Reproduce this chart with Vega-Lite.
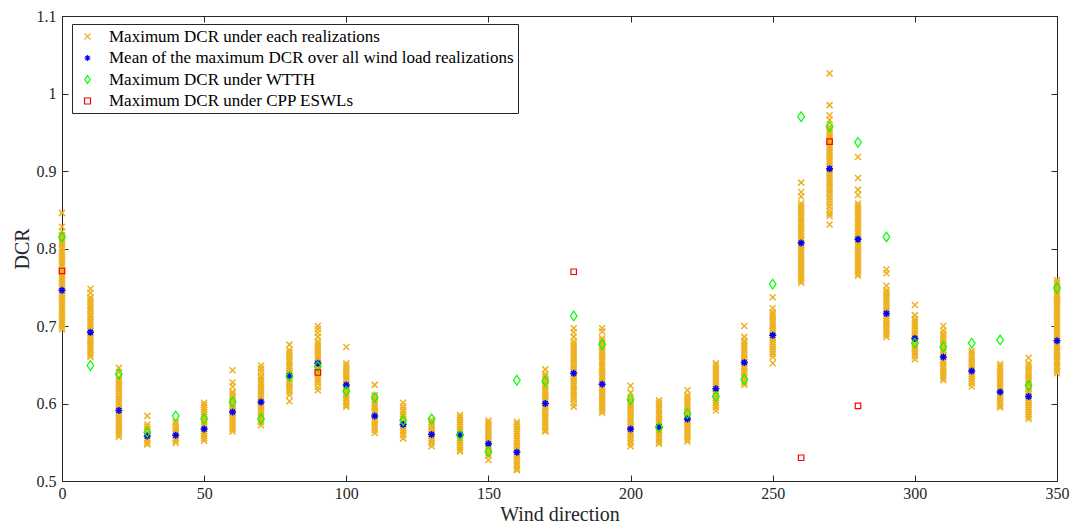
{
  "$schema": "https://vega.github.io/schema/vega-lite/v6.json",
  "width": 995,
  "height": 465,
  "autosize": {"type": "none"},
  "padding": {"left": 62, "top": 16, "right": 15, "bottom": 45},
  "background": "white",
  "config": {
    "view": {"stroke": "#262626", "strokeWidth": 1},
    "font": "Liberation Serif",
    "axis": {
      "grid": false,
      "domainColor": "#262626",
      "tickColor": "#262626",
      "labelColor": "#262626",
      "titleColor": "#262626",
      "labelFont": "Liberation Serif",
      "titleFont": "Liberation Serif",
      "labelFontSize": 16,
      "titleFontSize": 20,
      "titleFontWeight": "normal",
      "tickSize": -6,
      "labelFlush": false,
      "labelOverlap": false
    },
    "legend": {
      "orient": "none",
      "legendX": 10,
      "legendY": 8,
      "strokeColor": "#262626",
      "fillColor": "white",
      "padding": 4,
      "rowPadding": 3.5,
      "labelFont": "Liberation Serif",
      "labelFontSize": 17,
      "labelColor": "#000000",
      "labelLimit": 600,
      "symbolSize": 36,
      "symbolStrokeWidth": 1.2,
      "symbolOffset": 3,
      "labelOffset": 13,
      "title": null
    }
  },
  "datasets": {
    "real": [
      {"s":"R","d":0,"v":0.846},{"s":"R","d":0,"v":0.828},{"s":"R","d":0,"v":0.822},{"s":"R","d":0,"v":0.817},{"s":"R","d":0,"v":0.814},{"s":"R","d":0,"v":0.811},{"s":"R","d":0,"v":0.808},{"s":"R","d":0,"v":0.805},{"s":"R","d":0,"v":0.801},{"s":"R","d":0,"v":0.798},{"s":"R","d":0,"v":0.795},{"s":"R","d":0,"v":0.792},{"s":"R","d":0,"v":0.789},{"s":"R","d":0,"v":0.786},{"s":"R","d":0,"v":0.783},{"s":"R","d":0,"v":0.78},{"s":"R","d":0,"v":0.777},{"s":"R","d":0,"v":0.773},{"s":"R","d":0,"v":0.77},{"s":"R","d":0,"v":0.767},{"s":"R","d":0,"v":0.764},{"s":"R","d":0,"v":0.761},{"s":"R","d":0,"v":0.758},{"s":"R","d":0,"v":0.755},{"s":"R","d":0,"v":0.752},{"s":"R","d":0,"v":0.749},{"s":"R","d":0,"v":0.745},{"s":"R","d":0,"v":0.742},{"s":"R","d":0,"v":0.739},{"s":"R","d":0,"v":0.736},{"s":"R","d":0,"v":0.733},{"s":"R","d":0,"v":0.73},{"s":"R","d":0,"v":0.727},{"s":"R","d":0,"v":0.724},{"s":"R","d":0,"v":0.721},{"s":"R","d":0,"v":0.717},{"s":"R","d":0,"v":0.714},{"s":"R","d":0,"v":0.711},{"s":"R","d":0,"v":0.708},{"s":"R","d":0,"v":0.705},{"s":"R","d":0,"v":0.702},{"s":"R","d":0,"v":0.699},{"s":"R","d":0,"v":0.696},
      {"s":"R","d":10,"v":0.748},{"s":"R","d":10,"v":0.743},{"s":"R","d":10,"v":0.737},{"s":"R","d":10,"v":0.734},{"s":"R","d":10,"v":0.731},{"s":"R","d":10,"v":0.728},{"s":"R","d":10,"v":0.725},{"s":"R","d":10,"v":0.722},{"s":"R","d":10,"v":0.719},{"s":"R","d":10,"v":0.715},{"s":"R","d":10,"v":0.712},{"s":"R","d":10,"v":0.709},{"s":"R","d":10,"v":0.706},{"s":"R","d":10,"v":0.703},{"s":"R","d":10,"v":0.7},{"s":"R","d":10,"v":0.697},{"s":"R","d":10,"v":0.694},{"s":"R","d":10,"v":0.691},{"s":"R","d":10,"v":0.687},{"s":"R","d":10,"v":0.684},{"s":"R","d":10,"v":0.681},{"s":"R","d":10,"v":0.678},{"s":"R","d":10,"v":0.675},{"s":"R","d":10,"v":0.672},{"s":"R","d":10,"v":0.669},{"s":"R","d":10,"v":0.666},{"s":"R","d":10,"v":0.663},{"s":"R","d":10,"v":0.66},
      {"s":"R","d":20,"v":0.646},{"s":"R","d":20,"v":0.64},{"s":"R","d":20,"v":0.634},{"s":"R","d":20,"v":0.631},{"s":"R","d":20,"v":0.628},{"s":"R","d":20,"v":0.625},{"s":"R","d":20,"v":0.622},{"s":"R","d":20,"v":0.619},{"s":"R","d":20,"v":0.616},{"s":"R","d":20,"v":0.612},{"s":"R","d":20,"v":0.609},{"s":"R","d":20,"v":0.606},{"s":"R","d":20,"v":0.603},{"s":"R","d":20,"v":0.6},{"s":"R","d":20,"v":0.597},{"s":"R","d":20,"v":0.594},{"s":"R","d":20,"v":0.591},{"s":"R","d":20,"v":0.588},{"s":"R","d":20,"v":0.584},{"s":"R","d":20,"v":0.581},{"s":"R","d":20,"v":0.578},{"s":"R","d":20,"v":0.575},{"s":"R","d":20,"v":0.572},{"s":"R","d":20,"v":0.569},{"s":"R","d":20,"v":0.566},{"s":"R","d":20,"v":0.563},{"s":"R","d":20,"v":0.56},{"s":"R","d":20,"v":0.557},
      {"s":"R","d":30,"v":0.584},{"s":"R","d":30,"v":0.573},{"s":"R","d":30,"v":0.57},{"s":"R","d":30,"v":0.567},{"s":"R","d":30,"v":0.564},{"s":"R","d":30,"v":0.561},{"s":"R","d":30,"v":0.558},{"s":"R","d":30,"v":0.555},{"s":"R","d":30,"v":0.552},{"s":"R","d":30,"v":0.549},{"s":"R","d":30,"v":0.547},
      {"s":"R","d":40,"v":0.576},{"s":"R","d":40,"v":0.573},{"s":"R","d":40,"v":0.57},{"s":"R","d":40,"v":0.567},{"s":"R","d":40,"v":0.564},{"s":"R","d":40,"v":0.561},{"s":"R","d":40,"v":0.558},{"s":"R","d":40,"v":0.555},{"s":"R","d":40,"v":0.552},{"s":"R","d":40,"v":0.549},
      {"s":"R","d":50,"v":0.601},{"s":"R","d":50,"v":0.598},{"s":"R","d":50,"v":0.595},{"s":"R","d":50,"v":0.592},{"s":"R","d":50,"v":0.589},{"s":"R","d":50,"v":0.586},{"s":"R","d":50,"v":0.583},{"s":"R","d":50,"v":0.58},{"s":"R","d":50,"v":0.577},{"s":"R","d":50,"v":0.573},{"s":"R","d":50,"v":0.57},{"s":"R","d":50,"v":0.567},{"s":"R","d":50,"v":0.564},{"s":"R","d":50,"v":0.561},{"s":"R","d":50,"v":0.558},{"s":"R","d":50,"v":0.555},{"s":"R","d":50,"v":0.552},
      {"s":"R","d":60,"v":0.643},{"s":"R","d":60,"v":0.627},{"s":"R","d":60,"v":0.622},{"s":"R","d":60,"v":0.615},{"s":"R","d":60,"v":0.612},{"s":"R","d":60,"v":0.609},{"s":"R","d":60,"v":0.606},{"s":"R","d":60,"v":0.603},{"s":"R","d":60,"v":0.6},{"s":"R","d":60,"v":0.597},{"s":"R","d":60,"v":0.594},{"s":"R","d":60,"v":0.591},{"s":"R","d":60,"v":0.588},{"s":"R","d":60,"v":0.585},{"s":"R","d":60,"v":0.582},{"s":"R","d":60,"v":0.579},{"s":"R","d":60,"v":0.576},{"s":"R","d":60,"v":0.573},{"s":"R","d":60,"v":0.57},{"s":"R","d":60,"v":0.567},{"s":"R","d":60,"v":0.564},
      {"s":"R","d":70,"v":0.649},{"s":"R","d":70,"v":0.645},{"s":"R","d":70,"v":0.641},{"s":"R","d":70,"v":0.636},{"s":"R","d":70,"v":0.633},{"s":"R","d":70,"v":0.63},{"s":"R","d":70,"v":0.627},{"s":"R","d":70,"v":0.624},{"s":"R","d":70,"v":0.621},{"s":"R","d":70,"v":0.618},{"s":"R","d":70,"v":0.615},{"s":"R","d":70,"v":0.612},{"s":"R","d":70,"v":0.609},{"s":"R","d":70,"v":0.606},{"s":"R","d":70,"v":0.603},{"s":"R","d":70,"v":0.6},{"s":"R","d":70,"v":0.597},{"s":"R","d":70,"v":0.594},{"s":"R","d":70,"v":0.591},{"s":"R","d":70,"v":0.588},{"s":"R","d":70,"v":0.585},{"s":"R","d":70,"v":0.582},{"s":"R","d":70,"v":0.579},{"s":"R","d":70,"v":0.576},{"s":"R","d":70,"v":0.572},
      {"s":"R","d":80,"v":0.676},{"s":"R","d":80,"v":0.669},{"s":"R","d":80,"v":0.666},{"s":"R","d":80,"v":0.663},{"s":"R","d":80,"v":0.66},{"s":"R","d":80,"v":0.657},{"s":"R","d":80,"v":0.654},{"s":"R","d":80,"v":0.651},{"s":"R","d":80,"v":0.648},{"s":"R","d":80,"v":0.645},{"s":"R","d":80,"v":0.642},{"s":"R","d":80,"v":0.639},{"s":"R","d":80,"v":0.636},{"s":"R","d":80,"v":0.633},{"s":"R","d":80,"v":0.63},{"s":"R","d":80,"v":0.627},{"s":"R","d":80,"v":0.624},{"s":"R","d":80,"v":0.621},{"s":"R","d":80,"v":0.618},{"s":"R","d":80,"v":0.615},{"s":"R","d":80,"v":0.611},{"s":"R","d":80,"v":0.603},
      {"s":"R","d":90,"v":0.7},{"s":"R","d":90,"v":0.696},{"s":"R","d":90,"v":0.691},{"s":"R","d":90,"v":0.686},{"s":"R","d":90,"v":0.68},{"s":"R","d":90,"v":0.677},{"s":"R","d":90,"v":0.674},{"s":"R","d":90,"v":0.671},{"s":"R","d":90,"v":0.668},{"s":"R","d":90,"v":0.665},{"s":"R","d":90,"v":0.662},{"s":"R","d":90,"v":0.659},{"s":"R","d":90,"v":0.656},{"s":"R","d":90,"v":0.653},{"s":"R","d":90,"v":0.65},{"s":"R","d":90,"v":0.647},{"s":"R","d":90,"v":0.644},{"s":"R","d":90,"v":0.641},{"s":"R","d":90,"v":0.638},{"s":"R","d":90,"v":0.635},{"s":"R","d":90,"v":0.632},{"s":"R","d":90,"v":0.629},{"s":"R","d":90,"v":0.626},{"s":"R","d":90,"v":0.621},{"s":"R","d":90,"v":0.617},
      {"s":"R","d":100,"v":0.673},{"s":"R","d":100,"v":0.652},{"s":"R","d":100,"v":0.649},{"s":"R","d":100,"v":0.646},{"s":"R","d":100,"v":0.643},{"s":"R","d":100,"v":0.64},{"s":"R","d":100,"v":0.637},{"s":"R","d":100,"v":0.634},{"s":"R","d":100,"v":0.631},{"s":"R","d":100,"v":0.628},{"s":"R","d":100,"v":0.625},{"s":"R","d":100,"v":0.622},{"s":"R","d":100,"v":0.619},{"s":"R","d":100,"v":0.616},{"s":"R","d":100,"v":0.613},{"s":"R","d":100,"v":0.61},{"s":"R","d":100,"v":0.607},{"s":"R","d":100,"v":0.604},{"s":"R","d":100,"v":0.601},{"s":"R","d":100,"v":0.598},{"s":"R","d":100,"v":0.596},
      {"s":"R","d":110,"v":0.624},{"s":"R","d":110,"v":0.611},{"s":"R","d":110,"v":0.608},{"s":"R","d":110,"v":0.605},{"s":"R","d":110,"v":0.602},{"s":"R","d":110,"v":0.599},{"s":"R","d":110,"v":0.596},{"s":"R","d":110,"v":0.593},{"s":"R","d":110,"v":0.59},{"s":"R","d":110,"v":0.587},{"s":"R","d":110,"v":0.584},{"s":"R","d":110,"v":0.581},{"s":"R","d":110,"v":0.578},{"s":"R","d":110,"v":0.575},{"s":"R","d":110,"v":0.572},{"s":"R","d":110,"v":0.569},{"s":"R","d":110,"v":0.566},{"s":"R","d":110,"v":0.562},
      {"s":"R","d":120,"v":0.601},{"s":"R","d":120,"v":0.596},{"s":"R","d":120,"v":0.592},{"s":"R","d":120,"v":0.589},{"s":"R","d":120,"v":0.586},{"s":"R","d":120,"v":0.583},{"s":"R","d":120,"v":0.58},{"s":"R","d":120,"v":0.577},{"s":"R","d":120,"v":0.574},{"s":"R","d":120,"v":0.571},{"s":"R","d":120,"v":0.568},{"s":"R","d":120,"v":0.565},{"s":"R","d":120,"v":0.562},{"s":"R","d":120,"v":0.559},{"s":"R","d":120,"v":0.555},
      {"s":"R","d":130,"v":0.579},{"s":"R","d":130,"v":0.576},{"s":"R","d":130,"v":0.573},{"s":"R","d":130,"v":0.57},{"s":"R","d":130,"v":0.567},{"s":"R","d":130,"v":0.564},{"s":"R","d":130,"v":0.561},{"s":"R","d":130,"v":0.558},{"s":"R","d":130,"v":0.555},{"s":"R","d":130,"v":0.552},{"s":"R","d":130,"v":0.549},{"s":"R","d":130,"v":0.545},
      {"s":"R","d":140,"v":0.585},{"s":"R","d":140,"v":0.582},{"s":"R","d":140,"v":0.579},{"s":"R","d":140,"v":0.576},{"s":"R","d":140,"v":0.573},{"s":"R","d":140,"v":0.57},{"s":"R","d":140,"v":0.567},{"s":"R","d":140,"v":0.564},{"s":"R","d":140,"v":0.561},{"s":"R","d":140,"v":0.558},{"s":"R","d":140,"v":0.555},{"s":"R","d":140,"v":0.552},{"s":"R","d":140,"v":0.549},{"s":"R","d":140,"v":0.546},{"s":"R","d":140,"v":0.543},{"s":"R","d":140,"v":0.54},{"s":"R","d":140,"v":0.538},
      {"s":"R","d":150,"v":0.578},{"s":"R","d":150,"v":0.575},{"s":"R","d":150,"v":0.572},{"s":"R","d":150,"v":0.569},{"s":"R","d":150,"v":0.566},{"s":"R","d":150,"v":0.563},{"s":"R","d":150,"v":0.56},{"s":"R","d":150,"v":0.557},{"s":"R","d":150,"v":0.554},{"s":"R","d":150,"v":0.551},{"s":"R","d":150,"v":0.548},{"s":"R","d":150,"v":0.545},{"s":"R","d":150,"v":0.542},{"s":"R","d":150,"v":0.539},{"s":"R","d":150,"v":0.536},{"s":"R","d":150,"v":0.533},{"s":"R","d":150,"v":0.527},
      {"s":"R","d":160,"v":0.576},{"s":"R","d":160,"v":0.573},{"s":"R","d":160,"v":0.57},{"s":"R","d":160,"v":0.567},{"s":"R","d":160,"v":0.564},{"s":"R","d":160,"v":0.561},{"s":"R","d":160,"v":0.558},{"s":"R","d":160,"v":0.555},{"s":"R","d":160,"v":0.552},{"s":"R","d":160,"v":0.549},{"s":"R","d":160,"v":0.546},{"s":"R","d":160,"v":0.543},{"s":"R","d":160,"v":0.54},{"s":"R","d":160,"v":0.537},{"s":"R","d":160,"v":0.534},{"s":"R","d":160,"v":0.531},{"s":"R","d":160,"v":0.528},{"s":"R","d":160,"v":0.525},{"s":"R","d":160,"v":0.522},{"s":"R","d":160,"v":0.519},{"s":"R","d":160,"v":0.516},{"s":"R","d":160,"v":0.514},
      {"s":"R","d":170,"v":0.644},{"s":"R","d":170,"v":0.638},{"s":"R","d":170,"v":0.635},{"s":"R","d":170,"v":0.632},{"s":"R","d":170,"v":0.629},{"s":"R","d":170,"v":0.626},{"s":"R","d":170,"v":0.623},{"s":"R","d":170,"v":0.62},{"s":"R","d":170,"v":0.617},{"s":"R","d":170,"v":0.614},{"s":"R","d":170,"v":0.611},{"s":"R","d":170,"v":0.608},{"s":"R","d":170,"v":0.605},{"s":"R","d":170,"v":0.602},{"s":"R","d":170,"v":0.599},{"s":"R","d":170,"v":0.596},{"s":"R","d":170,"v":0.593},{"s":"R","d":170,"v":0.59},{"s":"R","d":170,"v":0.587},{"s":"R","d":170,"v":0.584},{"s":"R","d":170,"v":0.581},{"s":"R","d":170,"v":0.578},{"s":"R","d":170,"v":0.575},{"s":"R","d":170,"v":0.572},{"s":"R","d":170,"v":0.569},{"s":"R","d":170,"v":0.566},{"s":"R","d":170,"v":0.564},
      {"s":"R","d":180,"v":0.697},{"s":"R","d":180,"v":0.692},{"s":"R","d":180,"v":0.686},{"s":"R","d":180,"v":0.68},{"s":"R","d":180,"v":0.677},{"s":"R","d":180,"v":0.674},{"s":"R","d":180,"v":0.671},{"s":"R","d":180,"v":0.668},{"s":"R","d":180,"v":0.665},{"s":"R","d":180,"v":0.662},{"s":"R","d":180,"v":0.659},{"s":"R","d":180,"v":0.656},{"s":"R","d":180,"v":0.653},{"s":"R","d":180,"v":0.65},{"s":"R","d":180,"v":0.647},{"s":"R","d":180,"v":0.644},{"s":"R","d":180,"v":0.641},{"s":"R","d":180,"v":0.638},{"s":"R","d":180,"v":0.635},{"s":"R","d":180,"v":0.632},{"s":"R","d":180,"v":0.629},{"s":"R","d":180,"v":0.626},{"s":"R","d":180,"v":0.623},{"s":"R","d":180,"v":0.62},{"s":"R","d":180,"v":0.617},{"s":"R","d":180,"v":0.614},{"s":"R","d":180,"v":0.611},{"s":"R","d":180,"v":0.608},{"s":"R","d":180,"v":0.605},{"s":"R","d":180,"v":0.6},{"s":"R","d":180,"v":0.596},
      {"s":"R","d":190,"v":0.697},{"s":"R","d":190,"v":0.693},{"s":"R","d":190,"v":0.684},{"s":"R","d":190,"v":0.681},{"s":"R","d":190,"v":0.678},{"s":"R","d":190,"v":0.675},{"s":"R","d":190,"v":0.672},{"s":"R","d":190,"v":0.669},{"s":"R","d":190,"v":0.666},{"s":"R","d":190,"v":0.663},{"s":"R","d":190,"v":0.66},{"s":"R","d":190,"v":0.657},{"s":"R","d":190,"v":0.654},{"s":"R","d":190,"v":0.651},{"s":"R","d":190,"v":0.648},{"s":"R","d":190,"v":0.645},{"s":"R","d":190,"v":0.642},{"s":"R","d":190,"v":0.639},{"s":"R","d":190,"v":0.636},{"s":"R","d":190,"v":0.633},{"s":"R","d":190,"v":0.63},{"s":"R","d":190,"v":0.627},{"s":"R","d":190,"v":0.624},{"s":"R","d":190,"v":0.621},{"s":"R","d":190,"v":0.618},{"s":"R","d":190,"v":0.615},{"s":"R","d":190,"v":0.612},{"s":"R","d":190,"v":0.609},{"s":"R","d":190,"v":0.606},{"s":"R","d":190,"v":0.603},{"s":"R","d":190,"v":0.6},{"s":"R","d":190,"v":0.597},{"s":"R","d":190,"v":0.594},{"s":"R","d":190,"v":0.591},{"s":"R","d":190,"v":0.588},
      {"s":"R","d":200,"v":0.623},{"s":"R","d":200,"v":0.614},{"s":"R","d":200,"v":0.606},{"s":"R","d":200,"v":0.603},{"s":"R","d":200,"v":0.6},{"s":"R","d":200,"v":0.597},{"s":"R","d":200,"v":0.594},{"s":"R","d":200,"v":0.591},{"s":"R","d":200,"v":0.588},{"s":"R","d":200,"v":0.585},{"s":"R","d":200,"v":0.582},{"s":"R","d":200,"v":0.579},{"s":"R","d":200,"v":0.576},{"s":"R","d":200,"v":0.573},{"s":"R","d":200,"v":0.57},{"s":"R","d":200,"v":0.567},{"s":"R","d":200,"v":0.564},{"s":"R","d":200,"v":0.561},{"s":"R","d":200,"v":0.558},{"s":"R","d":200,"v":0.555},{"s":"R","d":200,"v":0.552},{"s":"R","d":200,"v":0.549},{"s":"R","d":200,"v":0.545},
      {"s":"R","d":210,"v":0.604},{"s":"R","d":210,"v":0.601},{"s":"R","d":210,"v":0.598},{"s":"R","d":210,"v":0.595},{"s":"R","d":210,"v":0.592},{"s":"R","d":210,"v":0.589},{"s":"R","d":210,"v":0.586},{"s":"R","d":210,"v":0.583},{"s":"R","d":210,"v":0.58},{"s":"R","d":210,"v":0.577},{"s":"R","d":210,"v":0.574},{"s":"R","d":210,"v":0.571},{"s":"R","d":210,"v":0.568},{"s":"R","d":210,"v":0.565},{"s":"R","d":210,"v":0.562},{"s":"R","d":210,"v":0.559},{"s":"R","d":210,"v":0.556},{"s":"R","d":210,"v":0.553},{"s":"R","d":210,"v":0.55},{"s":"R","d":210,"v":0.548},
      {"s":"R","d":220,"v":0.617},{"s":"R","d":220,"v":0.611},{"s":"R","d":220,"v":0.608},{"s":"R","d":220,"v":0.605},{"s":"R","d":220,"v":0.602},{"s":"R","d":220,"v":0.599},{"s":"R","d":220,"v":0.596},{"s":"R","d":220,"v":0.593},{"s":"R","d":220,"v":0.59},{"s":"R","d":220,"v":0.587},{"s":"R","d":220,"v":0.584},{"s":"R","d":220,"v":0.581},{"s":"R","d":220,"v":0.578},{"s":"R","d":220,"v":0.575},{"s":"R","d":220,"v":0.572},{"s":"R","d":220,"v":0.569},{"s":"R","d":220,"v":0.566},{"s":"R","d":220,"v":0.563},{"s":"R","d":220,"v":0.56},{"s":"R","d":220,"v":0.557},{"s":"R","d":220,"v":0.554},{"s":"R","d":220,"v":0.551},
      {"s":"R","d":230,"v":0.652},{"s":"R","d":230,"v":0.649},{"s":"R","d":230,"v":0.646},{"s":"R","d":230,"v":0.643},{"s":"R","d":230,"v":0.64},{"s":"R","d":230,"v":0.637},{"s":"R","d":230,"v":0.634},{"s":"R","d":230,"v":0.631},{"s":"R","d":230,"v":0.628},{"s":"R","d":230,"v":0.625},{"s":"R","d":230,"v":0.622},{"s":"R","d":230,"v":0.619},{"s":"R","d":230,"v":0.616},{"s":"R","d":230,"v":0.613},{"s":"R","d":230,"v":0.61},{"s":"R","d":230,"v":0.607},{"s":"R","d":230,"v":0.604},{"s":"R","d":230,"v":0.601},{"s":"R","d":230,"v":0.598},{"s":"R","d":230,"v":0.595},{"s":"R","d":230,"v":0.591},
      {"s":"R","d":240,"v":0.7},{"s":"R","d":240,"v":0.686},{"s":"R","d":240,"v":0.681},{"s":"R","d":240,"v":0.678},{"s":"R","d":240,"v":0.675},{"s":"R","d":240,"v":0.672},{"s":"R","d":240,"v":0.669},{"s":"R","d":240,"v":0.666},{"s":"R","d":240,"v":0.663},{"s":"R","d":240,"v":0.66},{"s":"R","d":240,"v":0.657},{"s":"R","d":240,"v":0.654},{"s":"R","d":240,"v":0.651},{"s":"R","d":240,"v":0.648},{"s":"R","d":240,"v":0.645},{"s":"R","d":240,"v":0.642},{"s":"R","d":240,"v":0.639},{"s":"R","d":240,"v":0.636},{"s":"R","d":240,"v":0.633},{"s":"R","d":240,"v":0.63},{"s":"R","d":240,"v":0.627},{"s":"R","d":240,"v":0.624},
      {"s":"R","d":250,"v":0.737},{"s":"R","d":250,"v":0.723},{"s":"R","d":250,"v":0.718},{"s":"R","d":250,"v":0.715},{"s":"R","d":250,"v":0.712},{"s":"R","d":250,"v":0.709},{"s":"R","d":250,"v":0.706},{"s":"R","d":250,"v":0.703},{"s":"R","d":250,"v":0.7},{"s":"R","d":250,"v":0.697},{"s":"R","d":250,"v":0.694},{"s":"R","d":250,"v":0.691},{"s":"R","d":250,"v":0.688},{"s":"R","d":250,"v":0.685},{"s":"R","d":250,"v":0.682},{"s":"R","d":250,"v":0.679},{"s":"R","d":250,"v":0.676},{"s":"R","d":250,"v":0.673},{"s":"R","d":250,"v":0.67},{"s":"R","d":250,"v":0.667},{"s":"R","d":250,"v":0.664},{"s":"R","d":250,"v":0.66},{"s":"R","d":250,"v":0.652},
      {"s":"R","d":260,"v":0.885},{"s":"R","d":260,"v":0.873},{"s":"R","d":260,"v":0.867},{"s":"R","d":260,"v":0.858},{"s":"R","d":260,"v":0.855},{"s":"R","d":260,"v":0.852},{"s":"R","d":260,"v":0.849},{"s":"R","d":260,"v":0.846},{"s":"R","d":260,"v":0.843},{"s":"R","d":260,"v":0.84},{"s":"R","d":260,"v":0.837},{"s":"R","d":260,"v":0.834},{"s":"R","d":260,"v":0.831},{"s":"R","d":260,"v":0.828},{"s":"R","d":260,"v":0.825},{"s":"R","d":260,"v":0.822},{"s":"R","d":260,"v":0.819},{"s":"R","d":260,"v":0.816},{"s":"R","d":260,"v":0.813},{"s":"R","d":260,"v":0.81},{"s":"R","d":260,"v":0.807},{"s":"R","d":260,"v":0.804},{"s":"R","d":260,"v":0.801},{"s":"R","d":260,"v":0.798},{"s":"R","d":260,"v":0.795},{"s":"R","d":260,"v":0.792},{"s":"R","d":260,"v":0.789},{"s":"R","d":260,"v":0.786},{"s":"R","d":260,"v":0.783},{"s":"R","d":260,"v":0.78},{"s":"R","d":260,"v":0.777},{"s":"R","d":260,"v":0.774},{"s":"R","d":260,"v":0.771},{"s":"R","d":260,"v":0.768},{"s":"R","d":260,"v":0.765},{"s":"R","d":260,"v":0.762},{"s":"R","d":260,"v":0.759},{"s":"R","d":260,"v":0.756},
      {"s":"R","d":270,"v":1.026},{"s":"R","d":270,"v":0.985},{"s":"R","d":270,"v":0.972},{"s":"R","d":270,"v":0.966},{"s":"R","d":270,"v":0.957},{"s":"R","d":270,"v":0.954},{"s":"R","d":270,"v":0.951},{"s":"R","d":270,"v":0.948},{"s":"R","d":270,"v":0.945},{"s":"R","d":270,"v":0.942},{"s":"R","d":270,"v":0.939},{"s":"R","d":270,"v":0.936},{"s":"R","d":270,"v":0.933},{"s":"R","d":270,"v":0.93},{"s":"R","d":270,"v":0.927},{"s":"R","d":270,"v":0.924},{"s":"R","d":270,"v":0.921},{"s":"R","d":270,"v":0.918},{"s":"R","d":270,"v":0.915},{"s":"R","d":270,"v":0.912},{"s":"R","d":270,"v":0.909},{"s":"R","d":270,"v":0.906},{"s":"R","d":270,"v":0.903},{"s":"R","d":270,"v":0.9},{"s":"R","d":270,"v":0.897},{"s":"R","d":270,"v":0.894},{"s":"R","d":270,"v":0.891},{"s":"R","d":270,"v":0.888},{"s":"R","d":270,"v":0.885},{"s":"R","d":270,"v":0.882},{"s":"R","d":270,"v":0.879},{"s":"R","d":270,"v":0.876},{"s":"R","d":270,"v":0.873},{"s":"R","d":270,"v":0.87},{"s":"R","d":270,"v":0.866},{"s":"R","d":270,"v":0.862},{"s":"R","d":270,"v":0.858},{"s":"R","d":270,"v":0.854},{"s":"R","d":270,"v":0.849},{"s":"R","d":270,"v":0.845},{"s":"R","d":270,"v":0.842},{"s":"R","d":270,"v":0.831},
      {"s":"R","d":280,"v":0.918},{"s":"R","d":280,"v":0.891},{"s":"R","d":280,"v":0.876},{"s":"R","d":280,"v":0.869},{"s":"R","d":280,"v":0.858},{"s":"R","d":280,"v":0.855},{"s":"R","d":280,"v":0.852},{"s":"R","d":280,"v":0.849},{"s":"R","d":280,"v":0.846},{"s":"R","d":280,"v":0.843},{"s":"R","d":280,"v":0.84},{"s":"R","d":280,"v":0.837},{"s":"R","d":280,"v":0.834},{"s":"R","d":280,"v":0.831},{"s":"R","d":280,"v":0.828},{"s":"R","d":280,"v":0.825},{"s":"R","d":280,"v":0.822},{"s":"R","d":280,"v":0.819},{"s":"R","d":280,"v":0.816},{"s":"R","d":280,"v":0.813},{"s":"R","d":280,"v":0.81},{"s":"R","d":280,"v":0.807},{"s":"R","d":280,"v":0.804},{"s":"R","d":280,"v":0.801},{"s":"R","d":280,"v":0.798},{"s":"R","d":280,"v":0.795},{"s":"R","d":280,"v":0.792},{"s":"R","d":280,"v":0.789},{"s":"R","d":280,"v":0.786},{"s":"R","d":280,"v":0.783},{"s":"R","d":280,"v":0.78},{"s":"R","d":280,"v":0.777},{"s":"R","d":280,"v":0.774},{"s":"R","d":280,"v":0.771},{"s":"R","d":280,"v":0.768},{"s":"R","d":280,"v":0.765},
      {"s":"R","d":290,"v":0.773},{"s":"R","d":290,"v":0.768},{"s":"R","d":290,"v":0.752},{"s":"R","d":290,"v":0.746},{"s":"R","d":290,"v":0.743},{"s":"R","d":290,"v":0.74},{"s":"R","d":290,"v":0.737},{"s":"R","d":290,"v":0.734},{"s":"R","d":290,"v":0.731},{"s":"R","d":290,"v":0.728},{"s":"R","d":290,"v":0.725},{"s":"R","d":290,"v":0.722},{"s":"R","d":290,"v":0.719},{"s":"R","d":290,"v":0.716},{"s":"R","d":290,"v":0.713},{"s":"R","d":290,"v":0.71},{"s":"R","d":290,"v":0.707},{"s":"R","d":290,"v":0.704},{"s":"R","d":290,"v":0.701},{"s":"R","d":290,"v":0.698},{"s":"R","d":290,"v":0.695},{"s":"R","d":290,"v":0.692},{"s":"R","d":290,"v":0.689},{"s":"R","d":290,"v":0.686},
      {"s":"R","d":300,"v":0.727},{"s":"R","d":300,"v":0.714},{"s":"R","d":300,"v":0.709},{"s":"R","d":300,"v":0.706},{"s":"R","d":300,"v":0.703},{"s":"R","d":300,"v":0.7},{"s":"R","d":300,"v":0.697},{"s":"R","d":300,"v":0.694},{"s":"R","d":300,"v":0.691},{"s":"R","d":300,"v":0.688},{"s":"R","d":300,"v":0.685},{"s":"R","d":300,"v":0.682},{"s":"R","d":300,"v":0.679},{"s":"R","d":300,"v":0.676},{"s":"R","d":300,"v":0.673},{"s":"R","d":300,"v":0.67},{"s":"R","d":300,"v":0.667},{"s":"R","d":300,"v":0.664},{"s":"R","d":300,"v":0.661},{"s":"R","d":300,"v":0.657},
      {"s":"R","d":310,"v":0.7},{"s":"R","d":310,"v":0.694},{"s":"R","d":310,"v":0.69},{"s":"R","d":310,"v":0.687},{"s":"R","d":310,"v":0.684},{"s":"R","d":310,"v":0.681},{"s":"R","d":310,"v":0.678},{"s":"R","d":310,"v":0.675},{"s":"R","d":310,"v":0.672},{"s":"R","d":310,"v":0.669},{"s":"R","d":310,"v":0.666},{"s":"R","d":310,"v":0.663},{"s":"R","d":310,"v":0.66},{"s":"R","d":310,"v":0.657},{"s":"R","d":310,"v":0.654},{"s":"R","d":310,"v":0.651},{"s":"R","d":310,"v":0.648},{"s":"R","d":310,"v":0.645},{"s":"R","d":310,"v":0.642},{"s":"R","d":310,"v":0.639},{"s":"R","d":310,"v":0.636},{"s":"R","d":310,"v":0.633},{"s":"R","d":310,"v":0.63},
      {"s":"R","d":320,"v":0.668},{"s":"R","d":320,"v":0.665},{"s":"R","d":320,"v":0.662},{"s":"R","d":320,"v":0.659},{"s":"R","d":320,"v":0.656},{"s":"R","d":320,"v":0.653},{"s":"R","d":320,"v":0.65},{"s":"R","d":320,"v":0.647},{"s":"R","d":320,"v":0.644},{"s":"R","d":320,"v":0.641},{"s":"R","d":320,"v":0.638},{"s":"R","d":320,"v":0.635},{"s":"R","d":320,"v":0.632},{"s":"R","d":320,"v":0.629},{"s":"R","d":320,"v":0.626},{"s":"R","d":320,"v":0.622},
      {"s":"R","d":330,"v":0.651},{"s":"R","d":330,"v":0.648},{"s":"R","d":330,"v":0.645},{"s":"R","d":330,"v":0.642},{"s":"R","d":330,"v":0.639},{"s":"R","d":330,"v":0.636},{"s":"R","d":330,"v":0.633},{"s":"R","d":330,"v":0.63},{"s":"R","d":330,"v":0.627},{"s":"R","d":330,"v":0.624},{"s":"R","d":330,"v":0.621},{"s":"R","d":330,"v":0.618},{"s":"R","d":330,"v":0.615},{"s":"R","d":330,"v":0.612},{"s":"R","d":330,"v":0.609},{"s":"R","d":330,"v":0.606},{"s":"R","d":330,"v":0.603},{"s":"R","d":330,"v":0.6},{"s":"R","d":330,"v":0.597},{"s":"R","d":330,"v":0.595},
      {"s":"R","d":340,"v":0.659},{"s":"R","d":340,"v":0.652},{"s":"R","d":340,"v":0.649},{"s":"R","d":340,"v":0.646},{"s":"R","d":340,"v":0.643},{"s":"R","d":340,"v":0.64},{"s":"R","d":340,"v":0.637},{"s":"R","d":340,"v":0.634},{"s":"R","d":340,"v":0.631},{"s":"R","d":340,"v":0.628},{"s":"R","d":340,"v":0.625},{"s":"R","d":340,"v":0.622},{"s":"R","d":340,"v":0.619},{"s":"R","d":340,"v":0.616},{"s":"R","d":340,"v":0.613},{"s":"R","d":340,"v":0.61},{"s":"R","d":340,"v":0.607},{"s":"R","d":340,"v":0.604},{"s":"R","d":340,"v":0.601},{"s":"R","d":340,"v":0.598},{"s":"R","d":340,"v":0.595},{"s":"R","d":340,"v":0.592},{"s":"R","d":340,"v":0.589},{"s":"R","d":340,"v":0.586},{"s":"R","d":340,"v":0.583},{"s":"R","d":340,"v":0.58},
      {"s":"R","d":350,"v":0.759},{"s":"R","d":350,"v":0.756},{"s":"R","d":350,"v":0.753},{"s":"R","d":350,"v":0.75},{"s":"R","d":350,"v":0.747},{"s":"R","d":350,"v":0.744},{"s":"R","d":350,"v":0.741},{"s":"R","d":350,"v":0.738},{"s":"R","d":350,"v":0.735},{"s":"R","d":350,"v":0.732},{"s":"R","d":350,"v":0.729},{"s":"R","d":350,"v":0.726},{"s":"R","d":350,"v":0.723},{"s":"R","d":350,"v":0.72},{"s":"R","d":350,"v":0.717},{"s":"R","d":350,"v":0.714},{"s":"R","d":350,"v":0.711},{"s":"R","d":350,"v":0.708},{"s":"R","d":350,"v":0.705},{"s":"R","d":350,"v":0.702},{"s":"R","d":350,"v":0.699},{"s":"R","d":350,"v":0.696},{"s":"R","d":350,"v":0.693},{"s":"R","d":350,"v":0.69},{"s":"R","d":350,"v":0.687},{"s":"R","d":350,"v":0.684},{"s":"R","d":350,"v":0.681},{"s":"R","d":350,"v":0.678},{"s":"R","d":350,"v":0.675},{"s":"R","d":350,"v":0.672},{"s":"R","d":350,"v":0.669},{"s":"R","d":350,"v":0.666},{"s":"R","d":350,"v":0.663},{"s":"R","d":350,"v":0.66},{"s":"R","d":350,"v":0.657},{"s":"R","d":350,"v":0.654},{"s":"R","d":350,"v":0.651},{"s":"R","d":350,"v":0.648},{"s":"R","d":350,"v":0.645},{"s":"R","d":350,"v":0.642},{"s":"R","d":350,"v":0.639}
    ],
    "mean": [
      {"s":"M","d":0,"v":0.746},{"s":"M","d":10,"v":0.692},{"s":"M","d":20,"v":0.591},{"s":"M","d":30,"v":0.558},{"s":"M","d":40,"v":0.559},{"s":"M","d":50,"v":0.567},{"s":"M","d":60,"v":0.589},{"s":"M","d":70,"v":0.602},{"s":"M","d":80,"v":0.636},{"s":"M","d":90,"v":0.652},{"s":"M","d":100,"v":0.624},{"s":"M","d":110,"v":0.584},{"s":"M","d":120,"v":0.573},{"s":"M","d":130,"v":0.56},{"s":"M","d":140,"v":0.56},{"s":"M","d":150,"v":0.548},{"s":"M","d":160,"v":0.537},{"s":"M","d":170,"v":0.6},{"s":"M","d":180,"v":0.639},{"s":"M","d":190,"v":0.625},{"s":"M","d":200,"v":0.567},{"s":"M","d":210,"v":0.57},{"s":"M","d":220,"v":0.58},{"s":"M","d":230,"v":0.619},{"s":"M","d":240,"v":0.653},{"s":"M","d":250,"v":0.688},{"s":"M","d":260,"v":0.807},{"s":"M","d":270,"v":0.903},{"s":"M","d":280,"v":0.812},{"s":"M","d":290,"v":0.716},{"s":"M","d":300,"v":0.684},{"s":"M","d":310,"v":0.66},{"s":"M","d":320,"v":0.642},{"s":"M","d":330,"v":0.615},{"s":"M","d":340,"v":0.609},{"s":"M","d":350,"v":0.681}
    ],
    "wtth": [
      {"s":"W","d":0,"v":0.815},{"s":"W","d":10,"v":0.649},{"s":"W","d":20,"v":0.638},{"s":"W","d":30,"v":0.563},{"s":"W","d":40,"v":0.584},{"s":"W","d":50,"v":0.58},{"s":"W","d":60,"v":0.602},{"s":"W","d":70,"v":0.58},{"s":"W","d":80,"v":0.635},{"s":"W","d":90,"v":0.648},{"s":"W","d":100,"v":0.616},{"s":"W","d":110,"v":0.608},{"s":"W","d":120,"v":0.578},{"s":"W","d":130,"v":0.58},{"s":"W","d":140,"v":0.559},{"s":"W","d":150,"v":0.538},{"s":"W","d":160,"v":0.63},{"s":"W","d":170,"v":0.629},{"s":"W","d":180,"v":0.713},{"s":"W","d":190,"v":0.676},{"s":"W","d":200,"v":0.605},{"s":"W","d":210,"v":0.569},{"s":"W","d":220,"v":0.587},{"s":"W","d":230,"v":0.609},{"s":"W","d":240,"v":0.631},{"s":"W","d":250,"v":0.754},{"s":"W","d":260,"v":0.97},{"s":"W","d":270,"v":0.957},{"s":"W","d":280,"v":0.937},{"s":"W","d":290,"v":0.815},{"s":"W","d":300,"v":0.678},{"s":"W","d":310,"v":0.673},{"s":"W","d":320,"v":0.678},{"s":"W","d":330,"v":0.682},{"s":"W","d":340,"v":0.623},{"s":"W","d":350,"v":0.749}
    ],
    "cpp": [
      {"s":"C","d":0,"v":0.771},{"s":"C","d":90,"v":0.64},{"s":"C","d":180,"v":0.77},{"s":"C","d":260,"v":0.53},{"s":"C","d":270,"v":0.938},{"s":"C","d":280,"v":0.597}
    ]
  },
  "layer": [
    {
      "data": {"name": "real"},
      "mark": {"type": "point", "filled": false, "strokeWidth": 1.5, "size": 36, "opacity": 1},
      "encoding": {
        "x": {"field": "d", "type": "quantitative", "scale": {"domain": [0, 350], "nice": false, "zero": false},
              "axis": {"orient": "bottom", "values": [0,50,100,150,200,250,300,350], "title": "Wind direction", "labelPadding": 10, "titlePadding": 3}},
        "y": {"field": "v", "type": "quantitative", "scale": {"domain": [0.5, 1.1], "nice": false, "zero": false},
              "axis": {"orient": "left", "values": [0.5,0.6,0.7,0.8,0.9,1,1.1], "format": "~g", "title": "DCR", "labelPadding": 12, "titlePadding": 4}},
        "color": {"field": "s", "type": "nominal",
                  "scale": {"domain": ["R", "M", "W", "C"], "range": ["#EDB120", "#0000FF", "#00FF00", "#FF0000"]},
                  "legend": {"labelExpr": "datum.label == 'R' ? 'Maximum DCR under each realizations' : datum.label == 'M' ? 'Mean of the maximum DCR over all wind load realizations' : datum.label == 'W' ? 'Maximum DCR under WTTH' : 'Maximum DCR under CPP ESWLs'"}},
        "shape": {"field": "s", "type": "nominal",
                  "scale": {"domain": ["R", "M", "W", "C"], "range": ["M-1,-1L1,1M-1,1L1,-1", "M-1,0L1,0M0,-1L0,1M-0.7,-0.7L0.7,0.7M-0.7,0.7L0.7,-0.7", "M0,-1.3L0.9,0L0,1.3L-0.9,0Z", "M-1,-1L1,-1L1,1L-1,1Z"]},
                  "legend": {"labelExpr": "datum.label == 'R' ? 'Maximum DCR under each realizations' : datum.label == 'M' ? 'Mean of the maximum DCR over all wind load realizations' : datum.label == 'W' ? 'Maximum DCR under WTTH' : 'Maximum DCR under CPP ESWLs'"}}
      }
    },
    {
      "data": {"name": "mean"},
      "mark": {"type": "point", "filled": false, "strokeWidth": 1.5, "size": 49, "opacity": 1},
      "encoding": {
        "x": {"field": "d", "type": "quantitative", "scale": {"domain": [0, 350], "nice": false, "zero": false},
              "axis": {"orient": "top", "values": [0,50,100,150,200,250,300,350], "labels": false, "title": null}},
        "y": {"field": "v", "type": "quantitative", "scale": {"domain": [0.5, 1.1], "nice": false, "zero": false},
              "axis": {"orient": "right", "values": [0.5,0.6,0.7,0.8,0.9,1,1.1], "labels": false, "title": null}},
        "color": {"field": "s", "type": "nominal"},
        "shape": {"field": "s", "type": "nominal"}
      }
    },
    {
      "data": {"name": "wtth"},
      "mark": {"type": "point", "filled": false, "strokeWidth": 1.2, "size": 55, "opacity": 1},
      "encoding": {
        "x": {"field": "d", "type": "quantitative", "axis": null},
        "y": {"field": "v", "type": "quantitative", "axis": null},
        "color": {"field": "s", "type": "nominal"},
        "shape": {"field": "s", "type": "nominal"}
      }
    },
    {
      "data": {"name": "cpp"},
      "mark": {"type": "point", "filled": false, "strokeWidth": 1.2, "size": 30, "opacity": 1},
      "encoding": {
        "x": {"field": "d", "type": "quantitative", "axis": null},
        "y": {"field": "v", "type": "quantitative", "axis": null},
        "color": {"field": "s", "type": "nominal"},
        "shape": {"field": "s", "type": "nominal"}
      }
    }
  ],
  "resolve": {"axis": {"x": "independent", "y": "independent"}}
}
